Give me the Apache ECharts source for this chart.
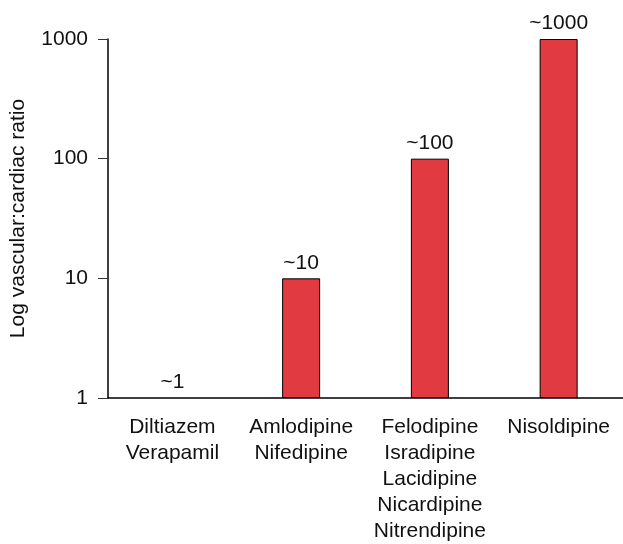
<!DOCTYPE html>
<html>
<head>
<meta charset="utf-8">
<script src="https://cdn.jsdelivr.net/npm/echarts@6/dist/echarts.min.js"></script>
<style>
  html, body { margin: 0; padding: 0; background: #fff; }
  #chart { width: 623px; height: 544px; }
</style>
</head>
<body>
<div id="chart"></div>
<script>
// drug groups (one line per drug)
const categories = [
    ['Diltiazem', 'Verapamil'],
    ['Amlodipine', 'Nifedipine'],
    ['Felodipine', 'Isradipine', 'Lacidipine', 'Nicardipine', 'Nitrendipine'],
    ['Nisoldipine']
];
const ratios = [1, 10, 100, 1000];
const ratioLabels = ['~1', '~10', '~100', '~1000'];
const yTicks = [1, 10, 100, 1000];

const font = 'Liberation Sans, Arial, Helvetica, sans-serif';

const chart = echarts.init(document.getElementById('chart'));

chart.setOption({
    animation: false,
    grid: {
        left: 103,
        right: 0,
        top: 39,
        bottom: 143
    },
    xAxis: {
        type: 'category',
        data: categories.map((c) => c.join('\n')),
        boundaryGap: true,
        axisLine: { lineStyle: { color: '#000', width: 1.5 } },
        axisTick: { length: 10, lineStyle: { color: '#333', width: 1 } },
        axisLabel: {
            color: '#111',
            fontFamily: font,
            fontSize: 21,
            lineHeight: 26,
            margin: 16,
            interval: 0
        },
        splitLine: { show: false }
    },
    yAxis: {
        type: 'log',
        logBase: 10,
        min: yTicks[0],
        max: yTicks[yTicks.length - 1],
        name: 'Log vascular:cardiac ratio',
        nameLocation: 'middle',
        nameGap: 79,
        nameTextStyle: {
            color: '#111',
            fontFamily: font,
            fontSize: 21
        },
        axisLine: { show: true, lineStyle: { color: '#000', width: 1.5 } },
        axisTick: { show: true, length: 10, lineStyle: { color: '#333', width: 1 } },
        axisLabel: {
            color: '#111',
            fontFamily: font,
            fontSize: 21,
            margin: 20,
            formatter: (v) => String(Math.round(v))
        },
        splitLine: { show: false }
    },
    series: [
        {
            type: 'bar',
            data: ratios.map((v) => ({
                value: v,
                // a zero-height bar (value at axis min) shows no outline
                itemStyle: v <= yTicks[0] ? { borderWidth: 0 } : {}
            })),
            barWidth: 38,
            itemStyle: {
                color: '#e23a41',
                borderColor: '#000',
                borderWidth: 1
            },
            label: {
                show: true,
                position: 'top',
                distance: 5,
                color: '#111',
                fontFamily: font,
                fontSize: 21,
                formatter: (p) => ratioLabels[p.dataIndex]
            }
        }
    ]
});
</script>
</body>
</html>
